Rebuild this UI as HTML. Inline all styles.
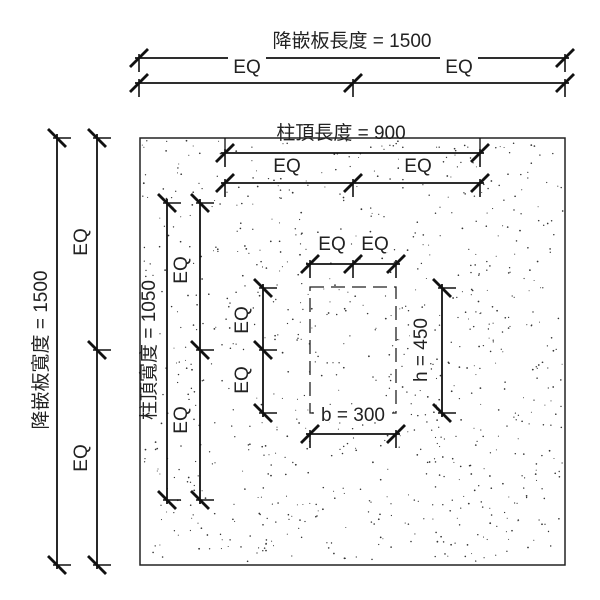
<!DOCTYPE html>
<html><head><meta charset="utf-8"><style>
html,body{margin:0;padding:0;background:#fff;}
svg{display:block;}
text{font-family:"Liberation Sans","Noto Sans CJK TC",sans-serif;fill:#222;}
</style></head><body>
<svg id="s" width="600" height="600" viewBox="0 0 600 600" xmlns="http://www.w3.org/2000/svg">
<rect x="140" y="138" width="425" height="427" fill="#fff" stroke="#222" stroke-width="1.5"/>
<g id="dots" fill="#333"></g>
<g id="lines" stroke="#111" fill="none"></g>
<rect x="310" y="287" width="86" height="126" fill="none" stroke="#222" stroke-width="1.3" stroke-dasharray="14,7"/>
<g id="bg" fill="#fff">
<rect x="228" y="56" width="38" height="20"/>
<rect x="440" y="56" width="38" height="20"/>
<rect x="255" y="122" width="172" height="15"/>
<rect x="268" y="155" width="38" height="20"/>
<rect x="399" y="155" width="38" height="20"/>
<rect x="69" y="222" width="22" height="40"/>
<rect x="69" y="438" width="22" height="40"/>
<rect x="170" y="250" width="20" height="40"/>
<rect x="170" y="400" width="20" height="40"/>
<rect x="141" y="280" width="16" height="140"/>
<rect x="231" y="300" width="20" height="40"/>
<rect x="231" y="360" width="20" height="40"/>
<rect x="410" y="312" width="20" height="76"/>
<rect x="314" y="406" width="78" height="16"/>
<rect x="314" y="233" width="36" height="19"/>
<rect x="357" y="233" width="36" height="19"/>
</g>
<text x="352" y="47" font-size="19" text-anchor="middle">降嵌板長度 = 1500</text>
<text x="247" y="73" font-size="19" text-anchor="middle">EQ</text>
<text x="459" y="73" font-size="19" text-anchor="middle">EQ</text>
<text x="341" y="139" font-size="19" text-anchor="middle">柱頂長度 = 900</text>
<text x="287" y="172" font-size="19" text-anchor="middle">EQ</text>
<text x="418" y="172" font-size="19" text-anchor="middle">EQ</text>
<text x="332" y="250" font-size="19" text-anchor="middle">EQ</text>
<text x="375" y="250" font-size="19" text-anchor="middle">EQ</text>
<text x="353" y="421" font-size="19" text-anchor="middle">b = 300</text>
<text transform="translate(47,350) rotate(-90)" font-size="19" text-anchor="middle">降嵌板寬度 = 1500</text>
<text transform="translate(87,242) rotate(-90)" font-size="19" text-anchor="middle">EQ</text>
<text transform="translate(87,458) rotate(-90)" font-size="19" text-anchor="middle">EQ</text>
<text transform="translate(155,350) rotate(-90)" font-size="19" text-anchor="middle">柱頂寬度 = 1050</text>
<text transform="translate(187,270) rotate(-90)" font-size="19" text-anchor="middle">EQ</text>
<text transform="translate(187,420) rotate(-90)" font-size="19" text-anchor="middle">EQ</text>
<text transform="translate(248,320) rotate(-90)" font-size="19" text-anchor="middle">EQ</text>
<text transform="translate(248,380) rotate(-90)" font-size="19" text-anchor="middle">EQ</text>
<text transform="translate(427,350) rotate(-90)" font-size="19" text-anchor="middle">h = 450</text>
</svg>
<script>
(function(){
var NS="http://www.w3.org/2000/svg";
var L=document.getElementById("lines"),D=document.getElementById("dots");
function ln(x1,y1,x2,y2,w){var e=document.createElementNS(NS,"line");e.setAttribute("x1",x1);e.setAttribute("y1",y1);e.setAttribute("x2",x2);e.setAttribute("y2",y2);e.setAttribute("stroke-width",w);L.appendChild(e);}
function hdim(y,xs){ln(xs[0]-4,y,xs[xs.length-1]+4,y,1.8);xs.forEach(function(x){ln(x,y-4,x,y+14,1.6);ln(x-9,y+9,x+9,y-9,2.8);});}
function vdim(x,ys){ln(x,ys[0]-4,x,ys[ys.length-1]+4,1.8);ys.forEach(function(y){ln(x-4,y,x+14,y,1.6);ln(x-9,y-9,x+9,y+9,2.8);});}
hdim(58,[139,565]);hdim(83,[139,353,565]);
hdim(153,[225,480]);hdim(183,[225,353,480]);
ln(225,138,225,153,1.3);ln(480,138,480,153,1.3);
vdim(57,[138,565]);vdim(97,[138,350,565]);
vdim(167,[203,500]);vdim(200,[203,350,500]);
hdim(264,[310,353,396]);hdim(434,[310,396]);
vdim(263,[288,350,413]);vdim(442,[288,413]);
var s=12345;function r(){s=(s*1103515245+12345)%2147483648;return s/2147483648;}
for(var i=0;i<900;i++){var c=document.createElementNS(NS,"circle");c.setAttribute("cx",(142+r()*421).toFixed(1));c.setAttribute("cy",(140+r()*423).toFixed(1));c.setAttribute("r",(0.5+r()*0.4).toFixed(2));D.appendChild(c);}
})();
</script>
</body></html>
